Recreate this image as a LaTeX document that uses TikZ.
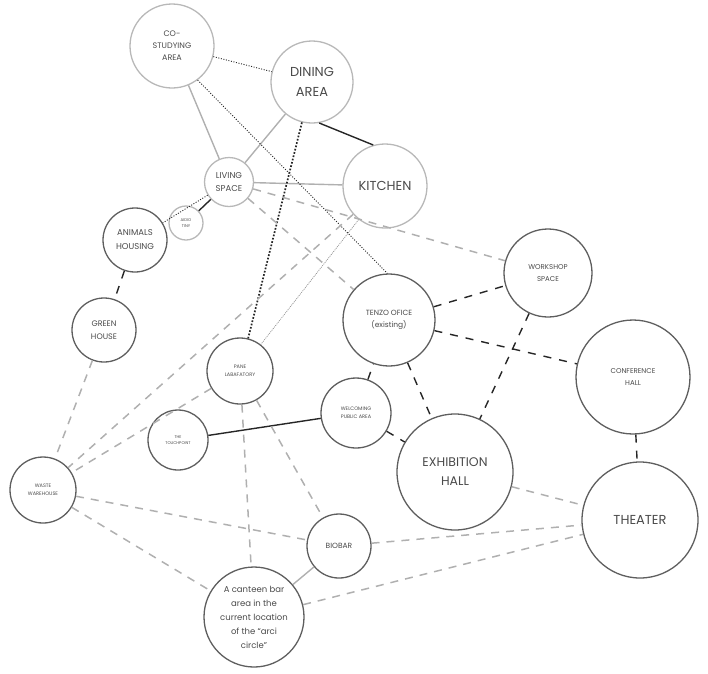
\documentclass[tikz,border=0pt]{standalone}
\usepackage{fontspec}
\setmainfont{Poppins}
\usepackage{tikz}
\usetikzlibrary{positioning}
\definecolor{ringdark}{HTML}{5E5E5E}
\definecolor{ringlight}{HTML}{B8B8B8}
\definecolor{linkgray}{HTML}{B0B0B0}
\definecolor{labelgray}{HTML}{4A4A4A}
\newcommand{\fsz}[2]{\fontsize{#1}{#2}\selectfont}

\begin{document}
\begin{tikzpicture}[
                x=1pt, y=-1pt,
                room/.style={draw=ringdark, circle, line width=1.3pt, inner sep=0pt, align=center, text=labelgray},
                lightroom/.style={room, draw=ringlight},
                solidlink/.style={draw=black!85, line width=1.4pt},
                greylink/.style={draw=linkgray, line width=1.4pt},
                thinlink/.style={draw=linkgray!80!black, line width=0.7pt, dash pattern=on 1pt off 1pt},
                dashlink/.style={draw=black!85, line width=1.4pt, dash pattern=on 8pt off 8pt},
                greydash/.style={draw=linkgray, line width=1.5pt, dash pattern=on 8pt off 7pt},
                dotlink/.style={draw=black!85, line width=0.9pt, dash pattern=on 1pt off 1.6pt},
                thickdot/.style={draw=black!85, line width=1.7pt, dash pattern=on 1.7pt off 1.7pt}
            ]

                \useasboundingbox (0,0) rectangle (708,673);

                % upper cluster
                \node[lightroom, minimum size=84pt, font=\fsz{8}{12}] (costudy)  at (172,46)  {CO-\\STUDYING\\AREA};
                \node[lightroom, minimum size=82pt, font=\fsz{13}{20}] (dining)  at (312,82)  {DINING\\AREA};
                \node[lightroom, minimum size=84pt, font=\fsz{13}{18}] (kitchen) at (385,186) {KITCHEN};
                \node[lightroom, minimum size=49pt, font=\fsz{8.5}{13}] (living) at (229,182) {LIVING\\SPACE};
                \node[lightroom, minimum size=34pt, font=\fsz{4}{6.5}] (aidio)    at (186,223) {AIDIO\\TINY};
                \node[room, minimum size=64pt, font=\fsz{8.5}{14}] (animals)     at (135,240) {ANIMALS\\HOUSING};
                \node[room, minimum size=64pt, font=\fsz{8}{13}] (green)         at (104,330) {GREEN\\HOUSE};

                % middle
                \node[room, minimum size=88pt, font=\fsz{7}{12}] (workshop)    at (548,273) {WORKSHOP\\SPACE};
                \node[room, minimum size=92pt, font=\fsz{7.5}{12}] (tenzo)         at (389,320) {TENZO OFICE\\(existing)};
                \node[room, minimum size=114pt, font=\fsz{7}{12}] (conference) at (633,377) {CONFERENCE\\HALL};
                \node[room, minimum size=66pt, font=\fsz{5}{8}] (pane)          at (240,371) {PANE\\LABAFATORY};
                \node[room, minimum size=70pt, font=\fsz{5}{8}] (welcoming)     at (356,413) {WELCOMING\\PUBLIC AREA};
                \node[room, minimum size=60pt, font=\fsz{4}{6.5}] (touch)         at (178,440) {THE\\TOUCHPOINT};
                \node[room, minimum size=116pt, font=\fsz{12.5}{19}] (exhibition) at (455,472) {EXHIBITION\\HALL};

                % lower
                \node[room, minimum size=116pt, font=\fsz{13}{18}] (theater)     at (640,520) {THEATER};
                \node[room, minimum size=66pt, font=\fsz{5}{8}] (waste)         at (43,490)  {WASTE\\WAREHOUSE};
                \node[room, minimum size=64pt, font=\fsz{7.5}{11}] (biobar)        at (339,546) {BIOBAR};
                \node[room, minimum size=100pt, font=\fsz{8.5}{14}] (canteen)      at (254,617) {A canteen bar\\area in the\\current location\\of the ``arci\\circle''};

                % solid links
                \draw[solidlink] (dining.-80) -- (kitchen.106);
                \draw[solidlink] (living) -- (aidio);
                \draw[solidlink] (touch) -- (welcoming);
                \draw[greylink] (costudy) -- (living);
                \draw[greylink] (dining) -- (living);
                \draw[greylink] (living) -- (kitchen);
                \draw[greylink] (biobar) -- (canteen);
                \draw[thinlink] (kitchen) -- (pane);

                % dotted links
                \draw[dotlink] (costudy) -- (dining);
                \draw[dotlink] (costudy.-53) -- (tenzo.92);
                \draw[dotlink] (living) -- (animals);
                \draw[thickdot] (dining) -- (pane);

                % black dashed links
                \draw[dashlink] (animals) -- (green);
                \draw[dashlink] (welcoming) -- (tenzo);
                \draw[dashlink] (welcoming) -- (exhibition);
                \draw[dashlink] (tenzo) -- (exhibition);
                \draw[dashlink] (tenzo) -- (conference);
                \draw[dashlink] (tenzo) -- (workshop);
                \draw[dashlink] (workshop) -- (exhibition);
                \draw[dashlink] (conference) -- (theater);

                % grey dashed links
                \draw[greydash] (living) -- (tenzo);
                \draw[greydash] (living) -- (workshop);
                \draw[greydash] (kitchen) -- (waste);
                \draw[greydash] (green) -- (waste);
                \draw[greydash] (pane) -- (waste);
                \draw[greydash] (pane) -- (biobar);
                \draw[greydash] (pane) -- (canteen);
                \draw[greydash] (waste) -- (biobar);
                \draw[greydash] (waste) -- (canteen);
                \draw[greydash] (biobar) -- (theater);
                \draw[greydash] (canteen) -- (theater);
                \draw[greydash] (exhibition) -- (theater);

            \end{tikzpicture}
\end{document}
